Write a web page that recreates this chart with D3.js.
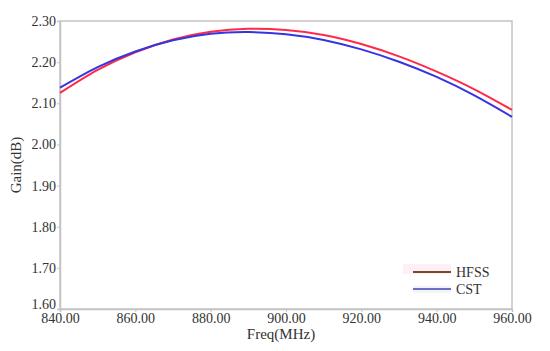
<!DOCTYPE html>
<meta charset="utf-8">
<head>
<script src="https://d3js.org/d3.v7.min.js"></script>
<style>
  body { margin: 0; background: #fff; }
  text { font-family: "Liberation Serif", "DejaVu Serif", serif; fill: #333; }
</style>
</head>
<body>
<div id="my_dataviz"></div>
<script>
  // frequencies (MHz)
  const freq = [840, 850, 860, 870, 880, 890, 900, 910, 920, 930, 940, 950, 960];
  // gain (dB)
  const hfss = [2.125, 2.181, 2.224, 2.255, 2.274, 2.281, 2.278, 2.266, 2.244, 2.214, 2.177, 2.134, 2.084];
  const cst  = [2.138, 2.188, 2.226, 2.253, 2.269, 2.273, 2.268, 2.254, 2.231, 2.201, 2.164, 2.119, 2.067];
  const xTicks = [840, 860, 880, 900, 920, 940, 960];
  const yTicks = [1.60, 1.70, 1.80, 1.90, 2.00, 2.10, 2.20, 2.30];

  const margin = {top: 21, right: 38, bottom: 42, left: 60},
      width = 550 - margin.left - margin.right,
      height = 351 - margin.top - margin.bottom;

  const svg = d3.select("#my_dataviz")
    .append("svg")
      .attr("width", 550)
      .attr("height", 351)
    .append("g")
      .attr("transform", `translate(${margin.left},${margin.top})`);

  const x = d3.scaleLinear().domain([840, 960]).range([0, width]);
  const y = d3.scaleLinear().domain([1.6, 2.3]).range([height, 0]);

  // frame
  svg.append("rect")
    .attr("width", width).attr("height", height)
    .attr("fill", "none").attr("stroke", "#c4c4c4").attr("stroke-width", 1.5);

  const xAxis = svg.append("g")
    .attr("transform", `translate(0,${height})`)
    .call(d3.axisBottom(x).tickValues(xTicks).tickFormat(d3.format(".2f")).tickSize(3).tickPadding(3));
  const yAxis = svg.append("g")
    .call(d3.axisLeft(y).tickValues(yTicks).tickFormat(d3.format(".2f")).tickSize(3).tickPadding(1));

  [xAxis, yAxis].forEach(a => {
    a.select(".domain").attr("stroke", "#c4c4c4").attr("stroke-width", 1.5);
    a.selectAll(".tick line").attr("stroke", "#c4c4c4");
    a.selectAll(".tick text").attr("font-size", 14)
      .attr("font-family", "Liberation Serif, DejaVu Serif, serif").attr("fill", "#333");
  });
  xAxis.selectAll(".tick text").attr("dy", "0.55em");
  // the bottom y label sits a little higher, as in the original
  yAxis.selectAll(".tick text").filter(d => d === 1.6).attr("dy", "-0.05em");

  // axis titles
  svg.append("text")
    .attr("x", 221).attr("y", height + 30)
    .attr("text-anchor", "middle").attr("font-size", 15)
    .text("Freq(MHz)");
  svg.append("text")
    .attr("transform", `translate(${-39},${height / 2}) rotate(-90)`)
    .attr("text-anchor", "middle").attr("font-size", 15)
    .text("Gain(dB)");

  const line = d3.line()
    .x((d, i) => x(freq[i]))
    .y(d => y(d))
    .curve(d3.curveNatural);

  svg.append("path").datum(hfss)
    .attr("d", line).attr("fill", "none")
    .attr("stroke", "#ff2a48").attr("stroke-width", 2);
  svg.append("path").datum(cst)
    .attr("d", line).attr("fill", "none")
    .attr("stroke", "#3535e0").attr("stroke-width", 2);

  // legend
  const legend = svg.append("g").attr("transform", "translate(353,251)");
  legend.append("rect").attr("x", -10).attr("y", -8).attr("width", 48).attr("height", 10).attr("fill", "#fff0f8");
  legend.append("rect").attr("x", 0).attr("y", 14).attr("width", 38).attr("height", 7).attr("fill", "#f2f4fc");
  legend.append("line").attr("x1", 0).attr("x2", 38).attr("y1", 0).attr("y2", 0)
    .attr("stroke", "#7d4826").attr("stroke-width", 2);
  legend.append("line").attr("x1", 0).attr("x2", 38).attr("y1", 17).attr("y2", 17)
    .attr("stroke", "#6b70c4").attr("stroke-width", 2);
  legend.append("text").attr("x", 43).attr("y", 5).attr("font-size", 14).text("HFSS");
  legend.append("text").attr("x", 43).attr("y", 22).attr("font-size", 14).text("CST");
</script>
</body>
